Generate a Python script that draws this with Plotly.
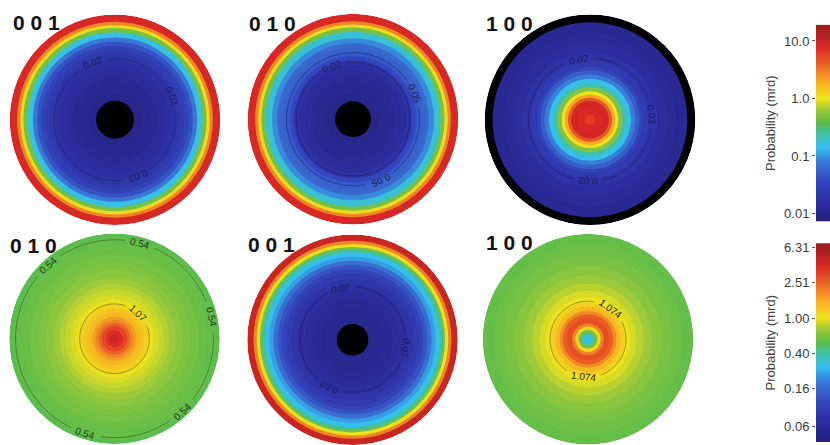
import numpy as np
import plotly.graph_objects as go

W, H = 830, 445

# ---------------- radial density profiles (mrd) ----------------
# ring_r: outer radius of each ring (fraction of the pole-figure radius)
# mrd:    density inside that ring
# blank:  unmeasured annulus [inner, outer] (drawn black)
# levels: contour levels that are labelled on the figure

# top row, scale A
p1_title = "0 0 1"
p1_ring_r = [0.25, 0.33, 0.40, 0.46, 0.52, 0.57, 0.62, 0.66, 0.70, 0.74, 0.78,
             0.83, 0.87, 0.90, 0.93, 1.00]
p1_mrd = [0.0105, 0.0115, 0.0125, 0.014, 0.016, 0.018, 0.021, 0.025, 0.030, 0.042,
          0.075, 0.15, 0.45, 1.1, 2.8, 8.0]
p1_blank = [0.0, 0.18]
p1_levels = ["0.02"]

p2_title = "0 1 0"
p2_ring_r = [0.25, 0.33, 0.40, 0.46, 0.51, 0.56, 0.60, 0.64, 0.68, 0.72, 0.77,
             0.83, 0.87, 0.90, 0.93, 1.00]
p2_mrd = [0.0105, 0.0115, 0.0125, 0.014, 0.016, 0.019, 0.035, 0.048, 0.055, 0.060,
          0.09, 0.17, 0.45, 1.1, 2.8, 8.0]
p2_blank = [0.0, 0.17]
p2_levels = ["0.02", "0.05"]

p3_title = "1 0 0"
p3_ring_r = [0.05, 0.12, 0.18, 0.21, 0.24, 0.27, 0.31, 0.35, 0.39, 0.43, 0.47,
             0.50, 0.56, 0.64, 0.73, 0.82, 1.00]
p3_mrd = [6.0, 8.0, 8.5, 4.5, 2.0, 1.0, 0.5, 0.22, 0.14, 0.08, 0.05,
          0.033, 0.024, 0.019, 0.016, 0.0135, 0.012]
p3_blank = [0.925, 1.0]
p3_levels = ["0.02"]

# bottom row, scale B
p4_title = "0 1 0"
p4_ring_r = [0.04, 0.08, 0.12, 0.15, 0.18, 0.21, 0.25, 0.29, 0.33, 0.37, 0.42,
             0.47, 0.52, 0.58, 0.65, 0.72, 0.80, 0.88, 0.96, 1.00]
p4_mrd = [4.6, 3.8, 3.1, 2.5, 2.0, 1.7, 1.45, 1.3, 1.15, 1.0, 0.92,
          0.86, 0.80, 0.74, 0.68, 0.64, 0.60, 0.575, 0.55, 0.52]
p4_blank = None
p4_levels = ["1.07", "0.54"]

p5_title = "0 0 1"
p5_ring_r = [0.30, 0.38, 0.45, 0.52, 0.58, 0.63, 0.67, 0.71, 0.75, 0.79, 0.83,
             0.86, 0.88, 0.91, 0.94, 1.00]
p5_mrd = [0.054, 0.058, 0.063, 0.068, 0.077, 0.088, 0.105, 0.13, 0.17, 0.23, 0.28,
          0.42, 0.60, 1.0, 2.0, 4.5]
p5_blank = [0.0, 0.15]
p5_levels = ["0.07"]

p6_title = "1 0 0"
p6_ring_r = [0.035, 0.06, 0.09, 0.12, 0.15, 0.20, 0.24, 0.27, 0.31, 0.35, 0.40,
             0.46, 0.53, 0.61, 0.70, 0.80, 0.90, 1.00]
p6_mrd = [0.28, 0.38, 0.60, 1.1, 2.0, 2.9, 2.6, 1.9, 1.45, 1.2, 1.02,
          0.92, 0.82, 0.74, 0.67, 0.62, 0.58, 0.55]
p6_blank = None
p6_levels = ["1.074"]

# colour-bar tick labels
cbA_ticks = ["0.01", "0.1", "1.0", "10.0"]
cbB_ticks = ["0.06", "0.16", "0.40", "1.00", "2.51", "6.31"]
cbA_range = [-2.14, 1.28]   # log10(mrd)
cbB_range = [-1.40, 0.845]

# ---------------- styling / layout ----------------
JET = [[0.0, '#241f7a'], [0.1, '#2d2d9f'], [0.2, '#3446bd'], [0.3, '#3a78d6'],
       [0.375, '#34c0ee'], [0.45, '#43c0a0'], [0.5, '#5cbc4a'], [0.56, '#96c83c'],
       [0.625, '#efe21e'], [0.7, '#f6b520'], [0.75, '#f08a24'], [0.875, '#e02a26'],
       [1.0, '#961b1b']]

R_PX = 106
CENTERS = [(115, 117.5), (353, 117), (590, 117.5), (114.5, 338), (352.5, 339), (588, 338.5)]
TITLE_POS = [(11, 19.5), (247, 20.5), (484, 21), (8, 244.5), (246, 243.5), (484, 241.5)]
LABEL_ANGLES = [
    {"0.02": [111, 23, -68]},
    {"0.02": [112], "0.05": [23, -66]},
    {"0.02": [100, 5, -92]},
    {"1.07": [47], "0.54": [132, 75, 13, -47, -107]},
    {"0.07": [102, -9, -117]},
    {"1.074": [54, -97]},
]
UPRIGHT = [False, False, False, True, False, True]
LABEL_COLOR = ['#1c1c5e', '#1c1c5e', '#1c1c5e', '#1e3a14', '#1c1c5e', '#1a1a1a']
LINE_COLOR = ['rgba(25,25,70,0.55)'] * 3 + ['rgba(40,50,20,0.55)', 'rgba(25,25,70,0.55)',
                                            'rgba(40,40,20,0.55)']

panels = [
    (p1_title, p1_ring_r, p1_mrd, p1_blank, p1_levels, cbA_range),
    (p2_title, p2_ring_r, p2_mrd, p2_blank, p2_levels, cbA_range),
    (p3_title, p3_ring_r, p3_mrd, p3_blank, p3_levels, cbA_range),
    (p4_title, p4_ring_r, p4_mrd, p4_blank, p4_levels, cbB_range),
    (p5_title, p5_ring_r, p5_mrd, p5_blank, p5_levels, cbB_range),
    (p6_title, p6_ring_r, p6_mrd, p6_blank, p6_levels, cbB_range),
]


def level_radius(ring_r, mrd, level):
    """Outermost radius where the ring profile crosses a contour level."""
    outer = np.array(ring_r)
    inner = np.concatenate([[0.0], outer[:-1]])
    c = (inner + outer) / 2
    lv = np.log10(mrd)
    L = np.log10(level)
    r = None
    for i in range(len(lv) - 1):
        if (lv[i] - L) * (lv[i + 1] - L) <= 0 and lv[i] != lv[i + 1]:
            r = c[i] + (L - lv[i]) / (lv[i + 1] - lv[i]) * (c[i + 1] - c[i])
    return r


fig = go.Figure()
annotations = []
layout_polars = {}
theta_line = np.arange(0, 361, 1.0)

for k, (title, ring_r, mrd, blank, levels, crange) in enumerate(panels):
    name = 'polar' if k == 0 else f'polar{k + 1}'
    cx, cy = CENTERS[k]
    layout_polars[name] = dict(
        domain=dict(x=[(cx - R_PX) / W, (cx + R_PX) / W],
                    y=[1 - (cy + R_PX) / H, 1 - (cy - R_PX) / H]),
        bgcolor='rgba(0,0,0,0)', bargap=0, hole=0,
        radialaxis=dict(visible=False, range=[0, 1]),
        angularaxis=dict(visible=False),
    )
    # density rings: discs from the outside in
    order = list(range(len(ring_r)))[::-1]
    fig.add_trace(go.Barpolar(
        r=[ring_r[i] for i in order], base=0,
        theta=[180] * len(ring_r), width=[360] * len(ring_r),
        marker=dict(color=[np.log10(mrd[i]) for i in order], colorscale=JET,
                    cmin=crange[0], cmax=crange[1], line=dict(width=0)),
        subplot=name, hoverinfo='skip', showlegend=False))
    if blank is not None:
        fig.add_trace(go.Barpolar(
            r=[blank[1] - blank[0]], base=[blank[0]], theta=[180], width=[360],
            marker=dict(color='black', line=dict(width=0)),
            subplot=name, hoverinfo='skip', showlegend=False))

    # contour lines with inline labels
    for lev in levels:
        val = float(lev)
        rc = level_radius(ring_r, mrd, val)
        angs = LABEL_ANGLES[k].get(lev, [])
        half_gap = np.degrees((len(lev) * 2.9 + 3) / (R_PX * rc))
        rr = []
        for t in theta_line:
            d = [abs(((t - a) + 180) % 360 - 180) for a in angs]
            rr.append(None if d and min(d) < half_gap else rc)
        fig.add_trace(go.Scatterpolar(
            r=rr, theta=theta_line, mode='lines',
            line=dict(color=LINE_COLOR[k], width=0.8),
            subplot=name, hoverinfo='skip', showlegend=False))
        for a in angs:
            ar = np.radians(a)
            px = cx + R_PX * rc * np.cos(ar)
            py = cy - R_PX * rc * np.sin(ar)
            rot = ((90 - a) + 180) % 360 - 180
            if UPRIGHT[k]:
                if rot > 90:
                    rot -= 180
                elif rot < -90:
                    rot += 180
            annotations.append(dict(
                x=px / W, y=1 - py / H, xref='paper', yref='paper',
                text=lev, showarrow=False, textangle=rot,
                xanchor='center', yanchor='middle',
                font=dict(family='Liberation Sans, Arial', size=10, color=LABEL_COLOR[k])))

    tx, ty = TITLE_POS[k]
    annotations.append(dict(
        x=tx / W, y=1 - ty / H, xref='paper', yref='paper', text=title,
        showarrow=False, xanchor='left', yanchor='middle',
        font=dict(family='Liberation Sans, Arial', size=21, color='#111', weight='bold')))


# ---------------- colour bars ----------------
def add_colorbar(idx, crange, ticks, ydom):
    xa = 'x' if idx == 1 else f'x{idx}'
    ya = 'y' if idx == 1 else f'y{idx}'
    vals = np.linspace(crange[0], crange[1], 300)
    fig.add_trace(go.Heatmap(
        z=[[v] for v in vals], y=vals, x=[0], colorscale=JET,
        zmin=crange[0], zmax=crange[1], showscale=False, hoverinfo='skip',
        xaxis=xa, yaxis=ya))
    sx = 'xaxis' if idx == 1 else f'xaxis{idx}'
    sy = 'yaxis' if idx == 1 else f'yaxis{idx}'
    fig.layout[sx] = dict(domain=[816 / W, 1.0], range=[-0.5, 0.5], visible=False,
                          anchor=ya)
    fig.layout[sy] = dict(domain=ydom, range=crange, anchor=xa, side='left',
                          tickvals=[np.log10(float(t)) for t in ticks], ticktext=ticks,
                          ticks='outside', ticklen=3, tickcolor='#555', showgrid=False,
                          zeroline=False, showline=False,
                          tickfont=dict(family='Liberation Sans, Arial', size=13, color='#3a3a3a'),
                          title=dict(text='Probability (mrd)', standoff=5,
                                     font=dict(family='Liberation Sans, Arial', size=13,
                                               color='#444')))


add_colorbar(1, cbA_range, cbA_ticks, [1 - 220 / H, 1 - 22 / H])
add_colorbar(2, cbB_range, cbB_ticks, [1 - 442 / H, 1 - 242 / H])

fig.update_layout(
    width=W, height=H, margin=dict(l=0, r=0, t=0, b=0),
    paper_bgcolor='white', plot_bgcolor='white',
    annotations=annotations, hovermode=False, showlegend=False,
    **layout_polars)

fig.write_html("out.html")
